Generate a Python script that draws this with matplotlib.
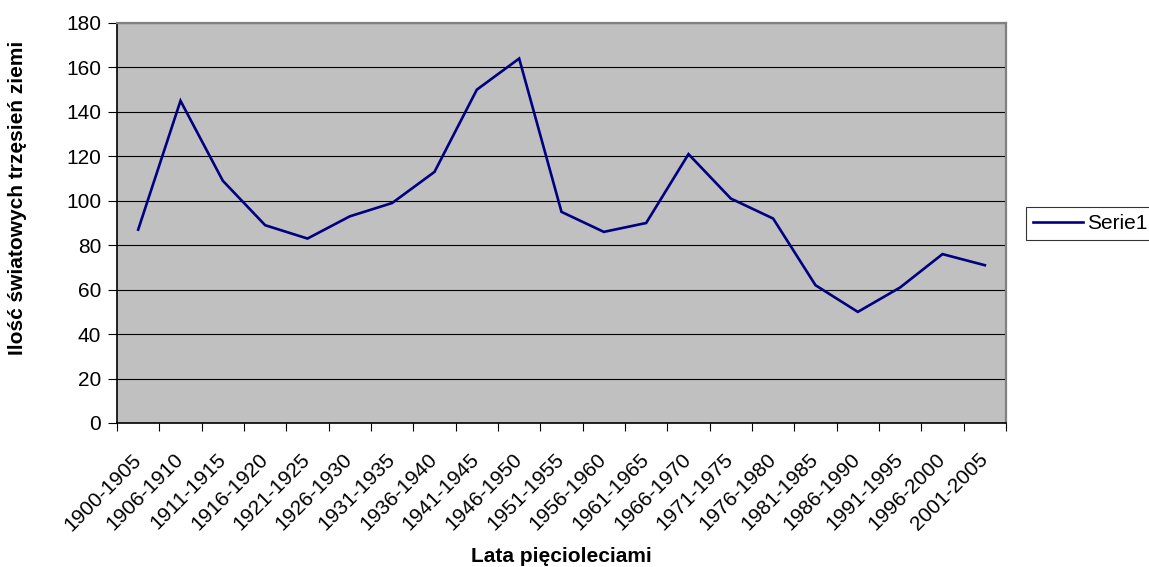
import matplotlib
matplotlib.use("Agg")
import matplotlib.pyplot as plt
from matplotlib.ticker import FixedLocator, NullFormatter
from matplotlib.transforms import ScaledTranslation

plt.rcParams['font.family'] = ['Liberation Sans', 'DejaVu Sans']

periods = ["1900-1905", "1906-1910", "1911-1915", "1916-1920", "1921-1925",
           "1926-1930", "1931-1935", "1936-1940", "1941-1945", "1946-1950",
           "1951-1955", "1956-1960", "1961-1965", "1966-1970", "1971-1975",
           "1976-1980", "1981-1985", "1986-1990", "1991-1995", "1996-2000",
           "2001-2005"]
quakes = [87, 145, 109, 89, 83, 93, 99, 113, 150, 164,
          95, 86, 90, 121, 101, 92, 62, 50, 61, 76, 71]
series_name = "Serie1"

W, H = 1149, 567
FS = 15

fig = plt.figure(figsize=(W / 100, H / 100), dpi=100)
ax = fig.add_axes([117 / W, 1 - 423 / H, 889 / W, 400 / H])
ax.set_facecolor("#C0C0C0")

x = list(range(len(periods)))
line, = ax.plot(x, quakes, color="#000080", linewidth=1.9, label=series_name,
                solid_joinstyle="miter")

ax.set_xlim(-0.5, len(periods) - 0.5)
ax.set_ylim(0, 180)
ax.set_yticks(range(0, 181, 20))
ax.yaxis.grid(True, color="black", linewidth=0.8)
ax.set_axisbelow(True)

# category tick marks sit on the boundaries between periods
ax.xaxis.set_minor_locator(FixedLocator([i - 0.5 for i in range(len(periods) + 1)]))
ax.xaxis.set_minor_formatter(NullFormatter())
ax.tick_params(axis="x", which="minor", length=6, width=0.8, color="black", direction="out")
ax.tick_params(axis="x", which="major", length=0, pad=19.5, labelsize=FS)
ax.tick_params(axis="y", length=6.5, width=0.8, direction="out", pad=5, labelsize=FS)

ax.set_xticks(x)
ax.set_xticklabels(periods, rotation=45, ha="right", va="top", rotation_mode="anchor")
shift = ScaledTranslation(-7 / 100, 0, fig.dpi_scale_trans)
for lbl in ax.get_xticklabels():
    lbl.set_transform(lbl.get_transform() + shift)

for side in ("top", "right"):
    ax.spines[side].set_color("#808080")
    ax.spines[side].set_linewidth(1.6)
for side in ("left", "bottom"):
    ax.spines[side].set_color("black")
    ax.spines[side].set_linewidth(1.2)

fig.text(561 / W, 1 - 557 / H, "Lata pięcioleciami", fontsize=FS, fontweight="bold",
         ha="center", va="center")
fig.text(18 / W, 1 - 198 / H, "Ilość światowych trzęsień ziemi", fontsize=FS,
         fontweight="bold", rotation=90, ha="center", va="center")

leg = fig.legend(handles=[line], loc="center left", bbox_to_anchor=(1026 / W, 1 - 223.5 / H),
                 frameon=True, fancybox=False, edgecolor="black", fontsize=FS,
                 handlelength=2.4, borderpad=0.33, handletextpad=0.2, borderaxespad=0)
leg.get_frame().set_linewidth(0.8)

fig.savefig("out.png", dpi=100, facecolor="white")
